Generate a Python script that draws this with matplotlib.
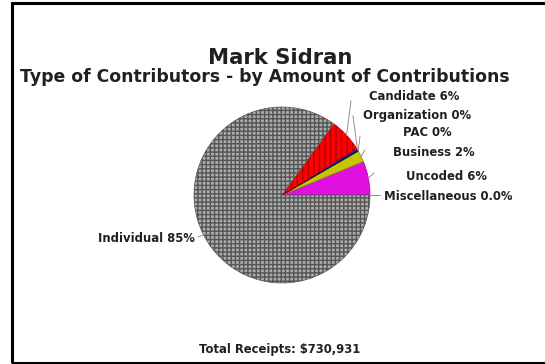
import numpy as np
import matplotlib.pyplot as plt
from matplotlib.patches import Rectangle

# slice data, counter-clockwise from 3 o'clock
categories = ['Miscellaneous', 'Uncoded', 'Business', 'PAC', 'Organization', 'Candidate', 'Individual']
shares = [0.0, 6.2, 2.1, 0.1, 0.4, 6.2, 85.0]
label_texts = ['Miscellaneous 0.0%', 'Uncoded 6%', 'Business 2%', 'PAC 0%',
               'Organization 0%', 'Candidate 6%', 'Individual 85%']
total_receipts = '$730,931'

colors = ['#ff00ff', '#e010e0', '#c8c400', '#006000', '#1020a0', '#ff0000', '#acacac']
edges = ['#e000e0', '#b000b0', '#909000', '#004000', '#000080', '#b00000', '#555555']
hatches = [None, None, None, None, None, '|||', '++++']

# label anchor (pixel coords from top-left) and leader end point
label_pos = [(448, 197), (446, 177), (434, 152), (427, 133), (417, 115), (414, 97), (146, 238)]
leader_end = [(380, 195), (374, 173), (365, 150), (360, 136), (353, 116), (351, 101), (198, 237)]

W, H = 545, 364
fig = plt.figure(figsize=(W / 100, H / 100), dpi=100)
ax = fig.add_axes([0, 0, 1, 1])

cx, cy, r = 282, H - 195, 88
wedges, _ = ax.pie(shares, colors=colors, startangle=0, counterclock=True,
                   center=(cx, cy), radius=r, frame=True,
                   wedgeprops=dict(linewidth=0.5))
for w, ec, h in zip(wedges, edges, hatches):
    w.set_edgecolor(ec)
    if h:
        w.set_hatch(h)
ax.set_xlim(0, W)
ax.set_ylim(0, H)
ax.set_aspect('equal')
ax.axis('off')

font = 'DejaVu Sans'
for w, txt, (lx, ly), (ex, ey) in zip(wedges, label_texts, label_pos, leader_end):
    mid = np.deg2rad((w.theta1 + w.theta2) / 2)
    sx, sy = cx + r * np.cos(mid), cy + r * np.sin(mid)
    ax.plot([sx, ex], [sy, H - ey], color='#909090', lw=0.7)
    ax.text(lx, H - ly, txt, ha='center', va='center', fontsize=8.4,
            fontweight='bold', family=font, color='#202020')

ax.text(280, H - 58, 'Mark Sidran', ha='center', va='center', fontsize=15.2,
        fontweight='bold', family=font, color='#202020')
ax.text(265, H - 77, 'Type of Contributors - by Amount of Contributions', ha='center',
        va='center', fontsize=12.4, fontweight='bold', family=font, color='#202020')
ax.text(280, H - 350, 'Total Receipts: ' + total_receipts, ha='center', va='center',
        fontsize=8.4, fontweight='bold', family=font, color='#202020')

# page frame, cut off at the right edge
ax.add_patch(Rectangle((12, 1.5), 700, H - 4.5, fill=False, edgecolor='black', lw=2.2))

fig.savefig('out.png', dpi=100)
